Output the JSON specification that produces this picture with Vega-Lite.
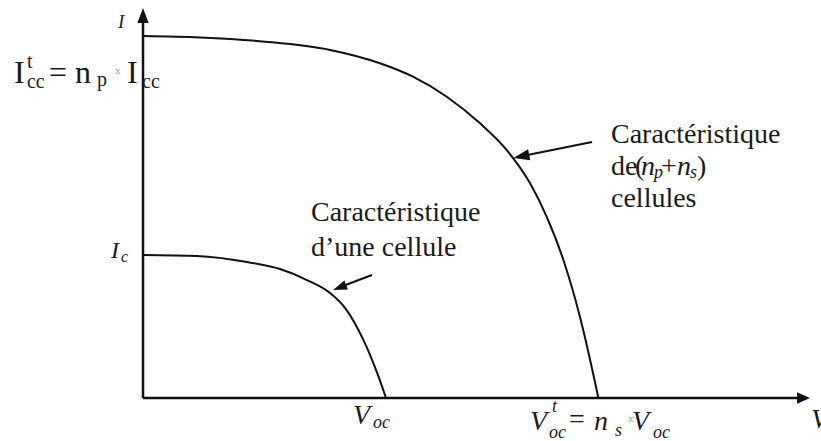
{
  "$schema": "https://vega.github.io/schema/vega-lite/v6.json",
  "width": 821,
  "height": 441,
  "autosize": {"type": "none"},
  "padding": 0,
  "background": "white",
  "config": {"view": {"stroke": null}},
  "datasets": {
    "curves": [
      {"curve": "n cellules", "x": 0, "y": 2.531},
      {"curve": "n cellules", "x": 0.235, "y": 2.521},
      {"curve": "n cellules", "x": 0.502, "y": 2.492},
      {"curve": "n cellules", "x": 0.77, "y": 2.434},
      {"curve": "n cellules", "x": 0.975, "y": 2.341},
      {"curve": "n cellules", "x": 1.111, "y": 2.247},
      {"curve": "n cellules", "x": 1.25, "y": 2.107},
      {"curve": "n cellules", "x": 1.387, "y": 1.921},
      {"curve": "n cellules", "x": 1.497, "y": 1.734},
      {"curve": "n cellules", "x": 1.593, "y": 1.501},
      {"curve": "n cellules", "x": 1.661, "y": 1.268},
      {"curve": "n cellules", "x": 1.73, "y": 0.965},
      {"curve": "n cellules", "x": 1.798, "y": 0.569},
      {"curve": "n cellules", "x": 1.867, "y": 0.056},
      {"curve": "n cellules", "x": 1.874, "y": 0},
      {"curve": "une cellule", "x": 0, "y": 1.0},
      {"curve": "une cellule", "x": 0.222, "y": 0.993},
      {"curve": "une cellule", "x": 0.428, "y": 0.951},
      {"curve": "une cellule", "x": 0.564, "y": 0.902},
      {"curve": "une cellule", "x": 0.675, "y": 0.825},
      {"curve": "une cellule", "x": 0.77, "y": 0.734},
      {"curve": "une cellule", "x": 0.835, "y": 0.622},
      {"curve": "une cellule", "x": 0.905, "y": 0.413},
      {"curve": "une cellule", "x": 0.962, "y": 0.182},
      {"curve": "une cellule", "x": 1.0, "y": 0}
    ],
    "axes": [
      {"name": "I", "x": 0, "y": 0, "x2": 0, "y2": 2.643},
      {"name": "V", "x": 0, "y": 0, "x2": 2.704, "y2": 0}
    ],
    "pointers": [
      {"name": "n cellules", "x": 1.848, "y": 1.79, "x2": 1.572, "y2": 1.696},
      {"name": "une cellule", "x": 0.942, "y": 0.86, "x2": 0.823, "y2": 0.783}
    ],
    "tipI": [{"x": 0, "y": 2.6748}],
    "tipV": [{"x": 2.7181, "y": 0}],
    "headBig": [{"x": 1.557, "y": 1.69}],
    "headSmall": [{"x": 0.809, "y": 0.773}],
    "labels": [
      {"kind": "mainUp", "text": "I", "x": -0.5309, "y": 2.2028},
      {"kind": "mainUp", "text": "=", "x": -0.3868, "y": 2.2028},
      {"kind": "mainUp", "text": "n", "x": -0.2798, "y": 2.2028},
      {"kind": "mainUp", "text": "I", "x": -0.0658, "y": 2.2028},
      {"kind": "subUp", "text": "t", "x": -0.4774, "y": 2.3077},
      {"kind": "subUp", "text": "cc", "x": -0.4774, "y": 2.1678},
      {"kind": "subUp", "text": "p", "x": -0.1893, "y": 2.1818},
      {"kind": "subUp", "text": "cc", "x": -0.0041, "y": 2.1678},
      {"kind": "times", "text": "x", "x": -0.1152, "y": 2.2657},
      {"kind": "times", "text": "x", "x": 1.9959, "y": -0.1678},
      {"kind": "note", "text": "Caractéristique", "x": 1.9259, "y": 1.7832},
      {"kind": "note", "text": "de", "x": 1.9259, "y": 1.5594},
      {"kind": "note", "text": "(", "x": 2.0247, "y": 1.5594},
      {"kind": "note", "text": "+", "x": 2.1317, "y": 1.5594},
      {"kind": "note", "text": ")", "x": 2.2798, "y": 1.5594},
      {"kind": "note", "text": "cellules", "x": 1.9259, "y": 1.3357},
      {"kind": "note", "text": "Caractéristique", "x": 0.6914, "y": 1.2378},
      {"kind": "note", "text": "d’une cellule", "x": 0.6914, "y": 0.993},
      {"kind": "note", "text": "=", "x": 1.7531, "y": -0.2098},
      {"kind": "it", "text": "V", "x": 0.8642, "y": -0.1818},
      {"kind": "it", "text": "V", "x": 1.5926, "y": -0.2238},
      {"kind": "it", "text": "n", "x": 1.856, "y": -0.2238},
      {"kind": "it", "text": "V", "x": 2.0123, "y": -0.2238},
      {"kind": "it", "text": "V", "x": 2.749, "y": -0.2098},
      {"kind": "it", "text": "n", "x": 2.0494, "y": 1.5594},
      {"kind": "it", "text": "n", "x": 2.1975, "y": 1.5594},
      {"kind": "itSub", "text": "oc", "x": 0.9465, "y": -0.2098},
      {"kind": "itSub", "text": "t", "x": 1.6831, "y": -0.0979},
      {"kind": "itSub", "text": "oc", "x": 1.6708, "y": -0.2797},
      {"kind": "itSub", "text": "s", "x": 1.9424, "y": -0.2657},
      {"kind": "itSub", "text": "oc", "x": 2.0988, "y": -0.2797},
      {"kind": "itSub", "text": "p", "x": 2.1029, "y": 1.5385},
      {"kind": "itSub", "text": "s", "x": 2.251, "y": 1.5385},
      {"kind": "axisI", "text": "I", "x": -0.1029, "y": 2.5874},
      {"kind": "ic", "text": "I", "x": -0.1317, "y": 0.979},
      {"kind": "icSub", "text": "c", "x": -0.0905, "y": 0.951}
    ]
  },
  "encoding": {
    "x": {"field": "x", "type": "quantitative", "axis": null, "scale": {"domain": [-0.5885, 2.7901], "nice": false, "zero": false}},
    "y": {"field": "y", "type": "quantitative", "axis": null, "scale": {"domain": [-0.3007, 2.7832], "nice": false, "zero": false}}
  },
  "layer": [
    {
      "data": {"name": "axes"},
      "mark": {"type": "rule", "color": "#111111", "strokeWidth": 2.5},
      "encoding": {"x2": {"field": "x2"}, "y2": {"field": "y2"}}
    },
    {
      "data": {"name": "tipI"},
      "mark": {"type": "point", "shape": "M0,-1L0.75,1L-0.75,1Z", "size": 225, "filled": true, "color": "#111111", "opacity": 1}
    },
    {
      "data": {"name": "tipV"},
      "mark": {"type": "point", "shape": "M1,0L-1,0.9L-1,-0.9Z", "size": 169, "filled": true, "color": "#111111", "opacity": 1}
    },
    {
      "data": {"name": "curves"},
      "mark": {"type": "line", "color": "#111111", "strokeWidth": 2, "interpolate": "monotone"},
      "encoding": {"detail": {"field": "curve"}}
    },
    {
      "data": {"name": "pointers"},
      "mark": {"type": "rule", "color": "#111111", "strokeWidth": 2},
      "encoding": {"x2": {"field": "x2"}, "y2": {"field": "y2"}}
    },
    {
      "data": {"name": "headBig"},
      "mark": {"type": "point", "shape": "M1,0L-1,0.7L-1,-0.7Z", "size": 256, "angle": 168.5, "filled": true, "color": "#111111", "opacity": 1}
    },
    {
      "data": {"name": "headSmall"},
      "mark": {"type": "point", "shape": "M1,0L-1,0.7L-1,-0.7Z", "size": 196, "angle": 159, "filled": true, "color": "#111111", "opacity": 1}
    },
    {
      "data": {"name": "labels"},
      "transform": [{"filter": "datum.kind === 'mainUp'"}],
      "mark": {"type": "text", "font": "Liberation Serif, Times New Roman, serif", "fontSize": 32, "align": "left", "baseline": "alphabetic", "color": "#1a1a1a"},
      "encoding": {"text": {"field": "text"}}
    },
    {
      "data": {"name": "labels"},
      "transform": [{"filter": "datum.kind === 'subUp'"}],
      "mark": {"type": "text", "font": "Liberation Serif, Times New Roman, serif", "fontSize": 20, "align": "left", "baseline": "alphabetic", "color": "#1a1a1a"},
      "encoding": {"text": {"field": "text"}}
    },
    {
      "data": {"name": "labels"},
      "transform": [{"filter": "datum.kind === 'times'"}],
      "mark": {"type": "text", "font": "Liberation Serif, Times New Roman, serif", "fontSize": 11, "align": "left", "baseline": "alphabetic", "color": "#9a9a9a"},
      "encoding": {"text": {"field": "text"}}
    },
    {
      "data": {"name": "labels"},
      "transform": [{"filter": "datum.kind === 'note'"}],
      "mark": {"type": "text", "font": "Liberation Serif, Times New Roman, serif", "fontSize": 28, "align": "left", "baseline": "alphabetic", "color": "#1a1a1a"},
      "encoding": {"text": {"field": "text"}}
    },
    {
      "data": {"name": "labels"},
      "transform": [{"filter": "datum.kind === 'it'"}],
      "mark": {"type": "text", "font": "Liberation Serif, Times New Roman, serif", "fontStyle": "italic", "fontSize": 28, "align": "left", "baseline": "alphabetic", "color": "#1a1a1a"},
      "encoding": {"text": {"field": "text"}}
    },
    {
      "data": {"name": "labels"},
      "transform": [{"filter": "datum.kind === 'itSub'"}],
      "mark": {"type": "text", "font": "Liberation Serif, Times New Roman, serif", "fontStyle": "italic", "fontSize": 18, "align": "left", "baseline": "alphabetic", "color": "#1a1a1a"},
      "encoding": {"text": {"field": "text"}}
    },
    {
      "data": {"name": "labels"},
      "transform": [{"filter": "datum.kind === 'axisI'"}],
      "mark": {"type": "text", "font": "Liberation Serif, Times New Roman, serif", "fontStyle": "italic", "fontSize": 19, "align": "left", "baseline": "alphabetic", "color": "#1a1a1a"},
      "encoding": {"text": {"field": "text"}}
    },
    {
      "data": {"name": "labels"},
      "transform": [{"filter": "datum.kind === 'ic'"}],
      "mark": {"type": "text", "font": "Liberation Serif, Times New Roman, serif", "fontStyle": "italic", "fontSize": 24, "align": "left", "baseline": "alphabetic", "color": "#1a1a1a"},
      "encoding": {"text": {"field": "text"}}
    },
    {
      "data": {"name": "labels"},
      "transform": [{"filter": "datum.kind === 'icSub'"}],
      "mark": {"type": "text", "font": "Liberation Serif, Times New Roman, serif", "fontStyle": "italic", "fontSize": 16, "align": "left", "baseline": "alphabetic", "color": "#1a1a1a"},
      "encoding": {"text": {"field": "text"}}
    }
  ]
}
